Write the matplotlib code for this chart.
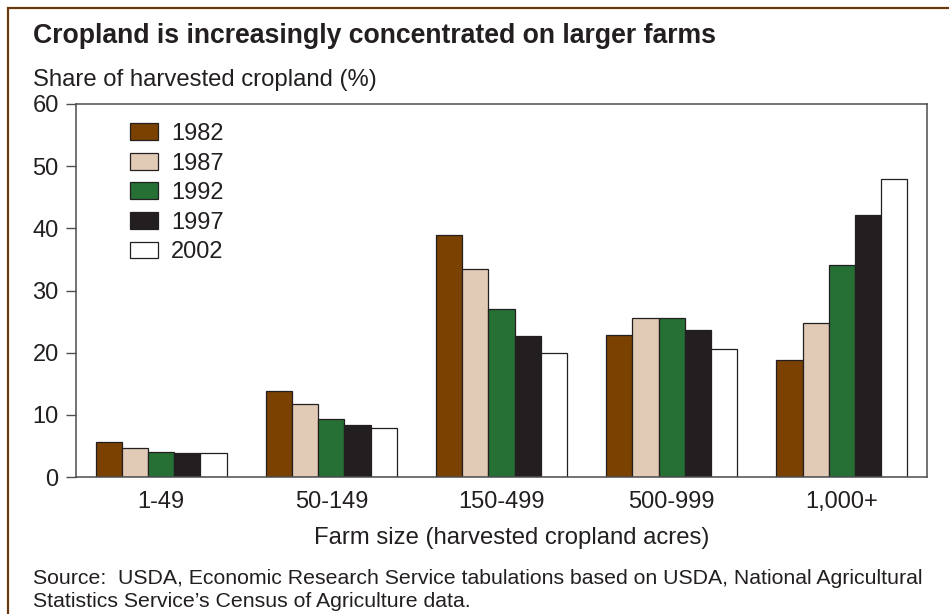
import matplotlib.pyplot as plt
import matplotlib.patches as mpatches
import numpy as np

plt.rcParams['font.family'] = ['Liberation Sans', 'DejaVu Sans']

farm_sizes = ['1-49', '50-149', '150-499', '500-999', '1,000+']
years = ['1982', '1987', '1992', '1997', '2002']
share_1982 = [5.6, 13.9, 39.0, 22.9, 18.9]
share_1987 = [4.7, 11.7, 33.4, 25.5, 24.8]
share_1992 = [4.1, 9.4, 27.0, 25.6, 34.1]
share_1997 = [3.8, 8.3, 22.7, 23.6, 42.1]
share_2002 = [3.9, 7.9, 19.9, 20.6, 47.9]
colors = ['#7a4100', '#e2cbb6', '#267035', '#231f20', '#ffffff']
text_color = '#231f20'

series = [share_1982, share_1987, share_1992, share_1997, share_2002]

fig = plt.figure(figsize=(9.49, 6.14), dpi=100)
ax = fig.add_axes([76/949, 1 - 477/614, (927 - 76)/949, (477 - 104)/614])

x = np.arange(len(farm_sizes))
w = 0.154
for i, vals in enumerate(series):
    ax.bar(x + (i - 2) * w, vals, w, color=colors[i], edgecolor='#231f20',
           linewidth=0.9, label=years[i], zorder=2)

ax.set_xlim(-0.5, len(farm_sizes) - 0.5)
ax.set_ylim(0, 60)
ax.set_yticks(range(0, 61, 10))
ax.set_xticks(x)
ax.set_xticklabels(farm_sizes)
ax.tick_params(axis='y', direction='out', length=7, width=1, color='#4d4d4d',
               labelsize=17, pad=5.5, labelcolor=text_color)
ax.tick_params(axis='x', length=0, labelsize=17, pad=10, labelcolor=text_color)
for s in ax.spines.values():
    s.set_color('#4d4d4d')
    s.set_linewidth(1.1)

ax.legend(loc='upper left', bbox_to_anchor=(54/851, 1 - 19/373), frameon=False,
          fontsize=17, handlelength=1.2, handleheight=0.72, handletextpad=0.55,
          labelspacing=0.32, borderpad=0, borderaxespad=0, labelcolor=text_color)

fig.text(33/949, 1 - 42.7/614, 'Cropland is increasingly concentrated on larger farms',
         fontsize=19.2, fontweight='bold', color=text_color, va='baseline')
fig.text(33/949, 1 - 86/614, 'Share of harvested cropland (%)',
         fontsize=17.2, color=text_color, va='baseline')
fig.text(512/949, 1 - 544/614, 'Farm size (harvested cropland acres)',
         fontsize=17.2, color=text_color, va='baseline', ha='center')
fig.text(33/949, 1 - 584/614,
         'Source:  USDA, Economic Research Service tabulations based on USDA, National Agricultural',
         fontsize=15.3, color=text_color, va='baseline')
fig.text(33/949, 1 - 606.7/614,
         'Statistics Service\u2019s Census of Agriculture data.',
         fontsize=15.3, color=text_color, va='baseline')

# brown frame around the chart, running off the right and bottom edges
frame = mpatches.Rectangle((8/949, -0.1), 1.0, 1.1 - 8.5/614, transform=fig.transFigure,
                           fill=False, edgecolor='#6b3a0e', linewidth=1.6)
fig.patches.append(frame)

fig.savefig('out.png', dpi=100)
